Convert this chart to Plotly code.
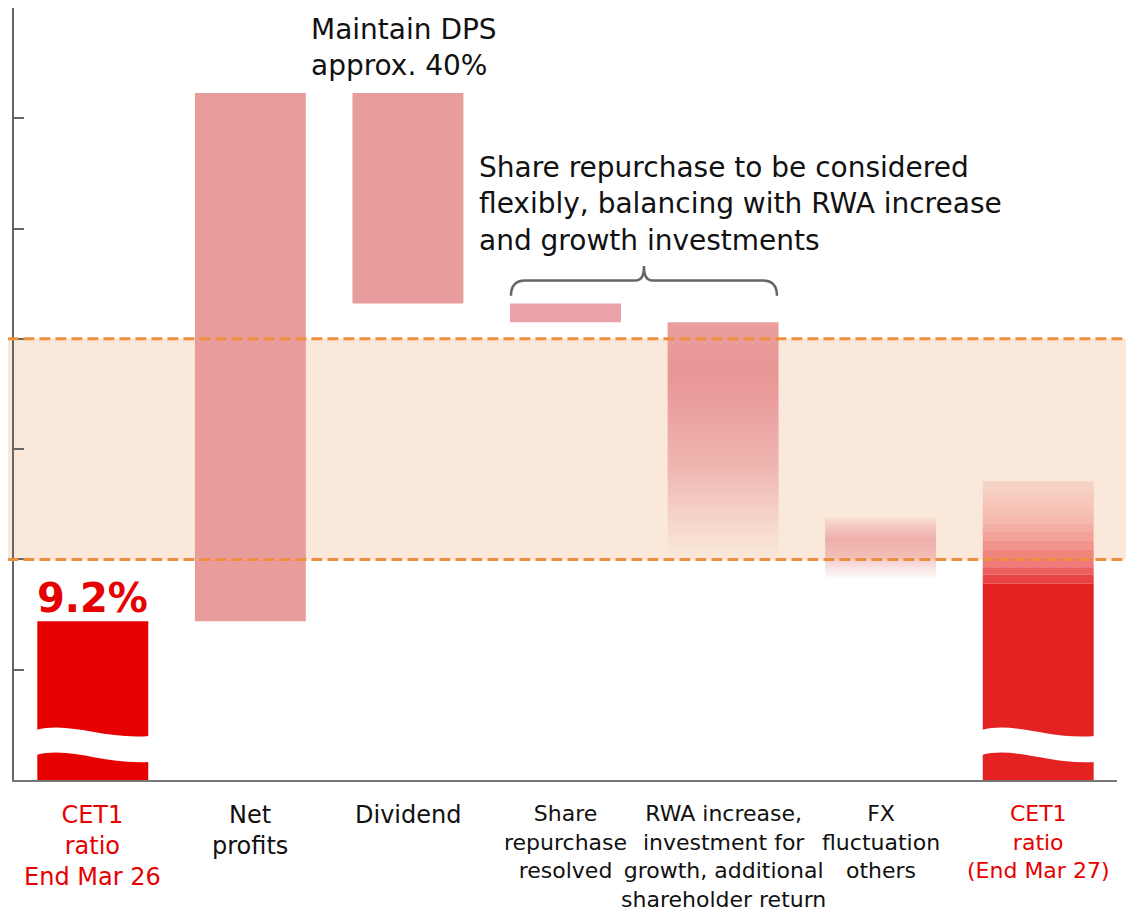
import plotly.graph_objects as go

# === DATA (axis units: one tick = 1) ===
categories = ["CET1<br>ratio<br>End Mar 26", "Net<br>profits", "Dividend",
              "Share<br>repurchase<br>resolved",
              "RWA increase,<br>investment for<br>growth, additional<br>shareholder return",
              "FX<br>fluctuation<br>others", "CET1<br>ratio<br>(End Mar 27)"]
label_sizes = [24, 24, 24, 22, 22, 22, 22]
label_colors = ["#E60000", "#111111", "#111111", "#111111", "#111111", "#111111", "#E60000"]

# solid bars: category index, bottom, top
solid_idx = [0, 1, 2, 3, 6]
solid_bottom = [0.0, 1.44, 4.32, 4.15, 0.0]
solid_top = [1.44, 6.23, 6.23, 4.32, 1.78]
solid_colors = ["#E60000", "#E99C9C", "#E99C9C", "#EDA1A9", "#E52222"]

# fading bars (RWA, FX)
rwa_range = [1.98, 4.15]
fx_range = [1.81, 2.40]

# stepped top of end-Mar-27 bar
end_steps = [1.78, 1.86, 1.93, 2.01, 2.09, 2.17, 2.25, 2.32, 2.40, 2.48, 2.56, 2.63, 2.71]
end_alpha = [0.85, 0.72, 0.6, 0.5, 0.42, 0.35, 0.29, 0.24, 0.2, 0.17, 0.14, 0.11]

target_band = [2.0, 4.0]
start_label = "9.2%"

BAR_W = 0.704
FONT = "DejaVu Sans"

fig = go.Figure()

# solid bars
fig.add_trace(go.Bar(
    x=solid_idx, base=solid_bottom,
    y=[t - b for t, b in zip(solid_top, solid_bottom)],
    width=BAR_W, marker=dict(color=solid_colors, line=dict(width=0)),
    hoverinfo="skip"))

# stepped fade on the end bar
fig.add_trace(go.Bar(
    x=[6] * (len(end_steps) - 1), base=end_steps[:-1],
    y=[end_steps[i + 1] - end_steps[i] for i in range(len(end_steps) - 1)],
    width=BAR_W,
    marker=dict(color=[f"rgba(229,34,34,{a})" for a in end_alpha], line=dict(width=0)),
    hoverinfo="skip"))


def fade_box(xc, y0, y1, stops):
    h = BAR_W / 2
    return go.Scatter(
        x=[xc - h, xc + h, xc + h, xc - h, xc - h], y=[y0, y0, y1, y1, y0],
        mode="lines", line=dict(width=0), fill="toself",
        fillgradient=dict(type="vertical", start=y0, stop=y1,
                          colorscale=[[p, f"rgba(232,150,150,{a})"] for p, a in stops]),
        hoverinfo="skip")


fig.add_trace(fade_box(4, rwa_range[0], rwa_range[1],
                       [(0, 0), (0.1, 0.12), (0.4, 0.62), (0.78, 1), (1, 0.92)]))
fig.add_trace(fade_box(5, fx_range[0], fx_range[1],
                       [(0, 0), (0.35, 0.5), (0.63, 0.7), (0.85, 0.35), (1, 0)]))

shapes = []
# target band (page body adds an 8px offset, so the band starts at the svg edge)
shapes.append(dict(type="rect", xref="paper", yref="y", x0=-0.006, x1=1.012,
                   y0=target_band[0], y1=target_band[1], fillcolor="#FAE9DA",
                   line=dict(width=0), layer="below"))
for yv in target_band:
    shapes.append(dict(type="line", xref="paper", yref="y", x0=-0.006, x1=1.012,
                       y0=yv, y1=yv, line=dict(color="#EE8F3C", width=3, dash="11px,5px"),
                       layer="above"))

# wavy break on the two CET1 bars
for xc in [0, 6]:
    L, R = xc - 0.36, xc + 0.36
    w = R - L
    path = (f"M {L},0.4533 C {L + 0.3 * w},0.5349 {L + 0.6 * w},0.3626 {R},0.3989 "
            f"L {R},0.1632 C {L + 0.6 * w},0.136 {L + 0.3 * w},0.3083 {L},0.2267 Z")
    shapes.append(dict(type="path", xref="x", yref="y", path=path,
                       fillcolor="white", line=dict(width=0), layer="above"))

# curly bracket over share repurchase + RWA
bl, br = 3 - BAR_W / 2 + 0.006, 4 + BAR_W / 2 - 0.01
mid = (bl + br) / 2
brace = (f"M {bl},4.39 Q {bl},4.53 {bl + 0.09},4.53 L {mid - 0.05},4.53 "
         f"Q {mid},4.53 {mid},4.66 Q {mid},4.53 {mid + 0.05},4.53 "
         f"L {br - 0.09},4.53 Q {br},4.53 {br},4.39")
shapes.append(dict(type="path", xref="x", yref="y", path=brace,
                   line=dict(color="#666666", width=2.5)))

annotations = []
for i, (lab, sz, col) in enumerate(zip(categories, label_sizes, label_colors)):
    annotations.append(dict(x=i, xref="x", y=0, yref="paper", yanchor="top", yshift=-19,
                            text=lab, showarrow=False, align="center",
                            font=dict(family=FONT, size=sz, color=col)))

annotations.append(dict(x=0, y=1.65, xref="x", yref="y", text=f"<b>{start_label}</b>",
                        showarrow=False, font=dict(family=FONT, size=40, color="#E60000")))
annotations.append(dict(x=1.37, y=6.64, xref="x", yref="y", xanchor="left",
                        text="Maintain DPS<br>approx. 40%", align="left", showarrow=False,
                        font=dict(family=FONT, size=28, color="#111111")))
annotations.append(dict(x=2.437, y=5.22, xref="x", yref="y", xanchor="left",
                        text="Share repurchase to be considered<br>"
                             "flexibly, balancing with RWA increase<br>"
                             "and growth investments",
                        align="left", showarrow=False,
                        font=dict(family=FONT, size=28, color="#111111")))

fig.update_layout(
    width=1134, height=910,
    margin=dict(l=6, r=25, t=0, b=138),
    paper_bgcolor="white", plot_bgcolor="rgba(0,0,0,0)",
    barmode="overlay", showlegend=False,
    shapes=shapes, annotations=annotations,
    font=dict(family=FONT),
)
fig.update_xaxes(range=[-0.5, 6.5], showline=True, linecolor="#777777", linewidth=2,
                 showticklabels=False, ticks="", showgrid=False, zeroline=False)
fig.update_yaxes(range=[0, 7], showline=True, linecolor="#666666", linewidth=2,
                 ticks="inside", ticklen=10, tickwidth=2, tickcolor="#666666",
                 tickvals=list(range(8)), showticklabels=False, showgrid=False,
                 zeroline=False)

fig.write_html("out.html")
